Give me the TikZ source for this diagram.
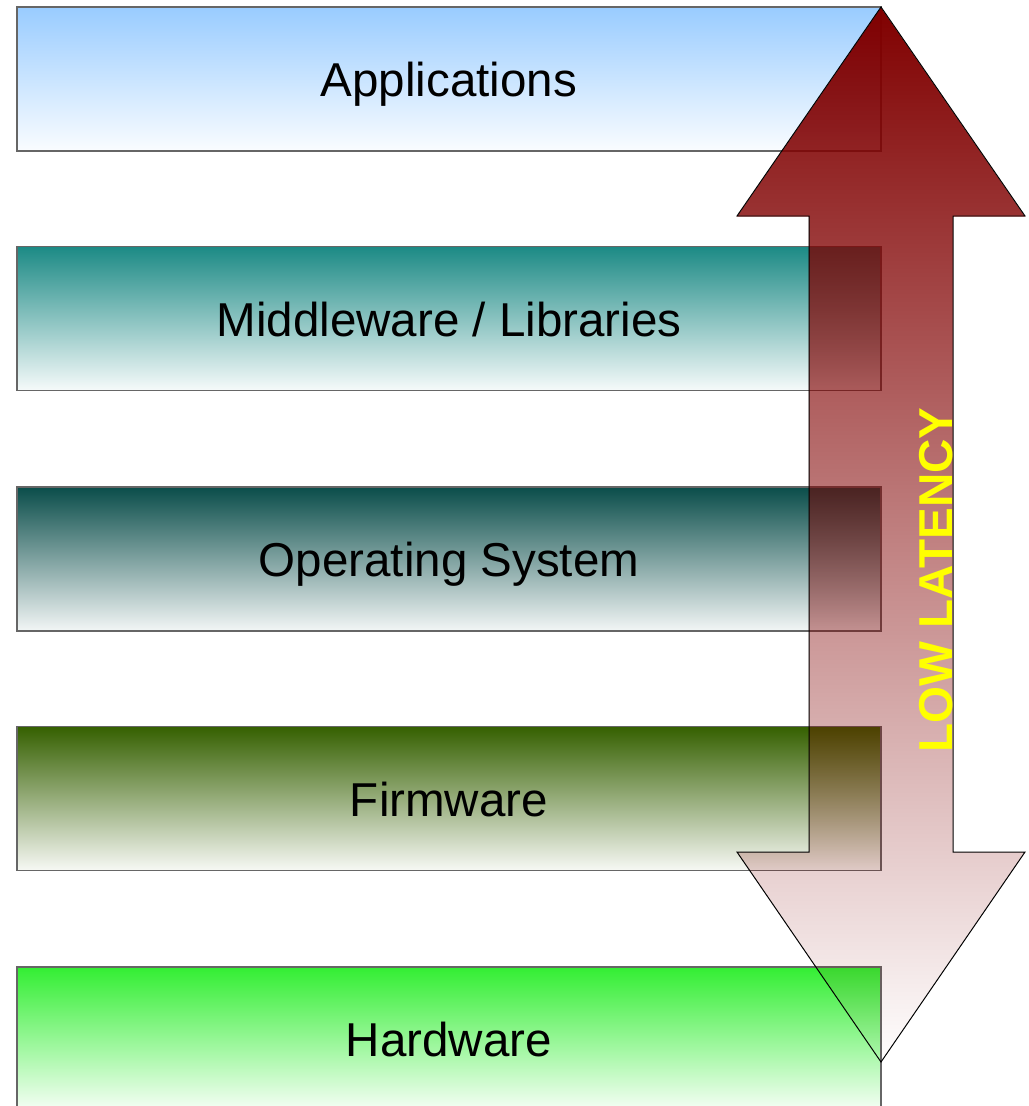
\documentclass[tikz,border=0pt]{standalone}
\usepackage{fontspec}
\setmainfont{Liberation Sans}
\usepackage{tikz}
\usetikzlibrary{positioning,fadings}
\definecolor{lyEdge}{HTML}{666666}
\definecolor{lyApps}{HTML}{99CCFF}
\definecolor{lyMid}{HTML}{1C8A85}
\definecolor{lyOS}{HTML}{0A4D4A}
\definecolor{lyFirm}{HTML}{356000}
\definecolor{lyHard}{HTML}{33EE33}
\definecolor{lyRed}{HTML}{800000}
\definecolor{lyLabel}{HTML}{FFFF00}
\tikzfading[name=latfade,top color=transparent!0,bottom color=transparent!100]
\tikzset{
  layer/.style   ={draw=lyEdge,line width=1.05pt,minimum width=21.6cm,
                   minimum height=3.6cm,inner sep=0pt,text height=25.5pt,
                   text depth=0pt,font=\fontsize{33.8}{40}\selectfont,text=black},
  latarrow/.style={draw=black,line width=0.7pt,
                   preaction={fill=lyRed,path fading=latfade}},
  latlbl/.style  ={font=\fontsize{33.8}{40}\selectfont\bfseries,text=lyLabel,
                   inner sep=0pt,rotate=90},
}
\begin{document}
\begin{tikzpicture}[x=0.025cm,y=-0.025cm]
\useasboundingbox (0,0) rectangle (1029,1106);

%% the stack of layers
\node[layer,top color=lyApps,bottom color=lyApps!5] (apps) at (449,79) {Applications};
\node[layer,top color=lyMid,bottom color=lyMid!4] (mid) at (449,318.5) {Middleware / Libraries};
\node[layer,top color=lyOS,bottom color=lyOS!5] (os) at (449,559) {Operating System};
\node[layer,top color=lyFirm,bottom color=lyFirm!4] (firm) at (449,798.5) {Firmware};
\node[layer,top color=lyHard,bottom color=lyHard!4] (hard) at (449,1039) {Hardware};

%% latency arrow over the right side
\path[latarrow] (881,7) -- (1025,216) -- (953,216) -- (953,852) -- (1025,852)
  -- (881,1062) -- (737,852) -- (809,852) -- (809,216) -- (737,216) -- cycle;
\node[latlbl] (lat) at (936,580) {LOW LATENCY};
\end{tikzpicture}
\end{document}
